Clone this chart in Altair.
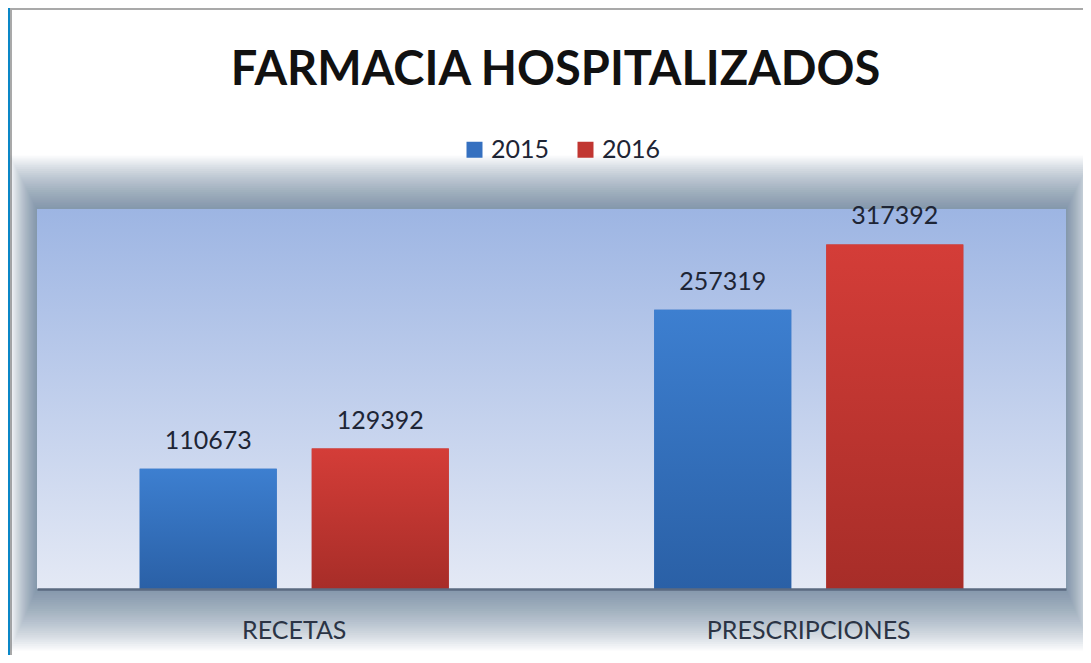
import altair as alt
import pandas as pd

categories = ["RECETAS", "PRESCRIPCIONES"]
years = ["2015", "2016"]
values_2015 = [110673, 257319]
values_2016 = [129392, 317392]

rows = []
for i, c in enumerate(categories):
    rows.append({"categoria": c, "anio": "2015", "valor": values_2015[i]})
    rows.append({"categoria": c, "anio": "2016", "valor": values_2016[i]})
df = pd.DataFrame(rows)

W, H = 1029, 380
PAD = {"left": 29, "top": 201, "right": 17, "bottom": 66}
FONT = "Lato"

one = alt.Data(values=[{"k": 0}])

def deco(x1, x2, y1, y2, fill, opacity=1.0):
    return alt.Chart(one).mark_rect(fill=fill, opacity=opacity, strokeWidth=0).encode(
        x=alt.value(x1), x2=alt.value(x2), y=alt.value(y1), y2=alt.value(y2)
    )

layers = []
# blue frame edge and gray rim of the white panel
layers.append(deco(-29, -27, -201, H + 66, "#0a87c7"))
layers.append(deco(-27, -25, -201, H + 66, "#a9a9a9"))
layers.append(deco(-27, W + 17, -201, -199, "#a9a9a9"))

# soft shadow around the plot area
N = 28
for i in range(1, N + 1):
    layers.append(deco(-0.97 * i, W + 0.95 * i, -1.9 * i, H + 2.2 * i, "#3f5478", 0.03))

plot_bg = alt.LinearGradient(
    gradient="linear",
    stops=[alt.GradientStop(color="#9db5e3", offset=0), alt.GradientStop(color="#e4e9f5", offset=1)],
    x1=0, x2=0, y1=0, y2=1,
)
layers.append(alt.Chart(one).mark_rect(fill=plot_bg).encode(
    x=alt.value(0), x2=alt.value(W), y=alt.value(0), y2=alt.value(H)))

x_enc = alt.X(
    "categoria:N", sort=categories,
    scale=alt.Scale(paddingInner=0, paddingOuter=0),
    axis=alt.Axis(title=None, labelAngle=0, ticks=False, tickSize=0, grid=False,
                  domainColor="#5b6a80", domainWidth=2.5, labelFont=FONT, labelFontSize=25,
                  labelColor="#2b3445", labelPadding=49, labelBaseline="alphabetic",
                  labelLimit=0, zindex=1),
)
xo_enc = alt.XOffset("anio:N", sort=years, scale=alt.Scale(paddingInner=0.2035, paddingOuter=0.597))
y_enc = alt.Y("valor:Q", scale=alt.Scale(domain=[0, 350000], nice=False), axis=None)

base = alt.Chart(df)

bars_flat = base.mark_bar().encode(
    x=x_enc, xOffset=xo_enc, y=y_enc,
    color=alt.Color("anio:N", sort=years,
                    scale=alt.Scale(domain=years, range=["#3570c0", "#c13631"]),
                    legend=alt.Legend(title=None, orient="none", legendX=425, legendY=-72,
                                      direction="horizontal", symbolType="square", symbolSize=256,
                                      symbolStrokeWidth=0, labelFont=FONT, labelFontSize=25,
                                      labelColor="#1e2535", columnPadding=23, labelOffset=4,
                                      padding=0)),
)

blue_grad = alt.LinearGradient(
    gradient="linear",
    stops=[alt.GradientStop(color="#3d7fd0", offset=0), alt.GradientStop(color="#2a60a6", offset=1)],
    x1=0, x2=0, y1=0, y2=1,
)
red_grad = alt.LinearGradient(
    gradient="linear",
    stops=[alt.GradientStop(color="#d43d38", offset=0), alt.GradientStop(color="#a72d28", offset=1)],
    x1=0, x2=0, y1=0, y2=1,
)
bars_2015 = base.transform_filter(alt.datum.anio == "2015").mark_bar(fill=blue_grad).encode(
    x=x_enc, xOffset=xo_enc, y=y_enc)
bars_2016 = base.transform_filter(alt.datum.anio == "2016").mark_bar(fill=red_grad).encode(
    x=x_enc, xOffset=xo_enc, y=y_enc)

labels = base.mark_text(font=FONT, fontSize=25, color="#1e2535", baseline="alphabetic", dy=-20).encode(
    x=x_enc, xOffset=xo_enc, y=y_enc, text=alt.Text("valor:Q", format="d"))

layers += [bars_flat, bars_2015, bars_2016, labels]

chart = alt.layer(*layers).properties(
    width=W, height=H, padding=PAD, autosize="none",
    background="white",
    title=alt.TitleParams("FARMACIA HOSPITALIZADOS", font=FONT, fontSize=47, fontWeight="bold",
                          color="#111111", anchor="middle", frame="group", offset=-124,
                          baseline="alphabetic", dx=4),
).configure_view(stroke=None)

chart.save("out.html", embed_options={"renderer": "svg", "actions": False})
